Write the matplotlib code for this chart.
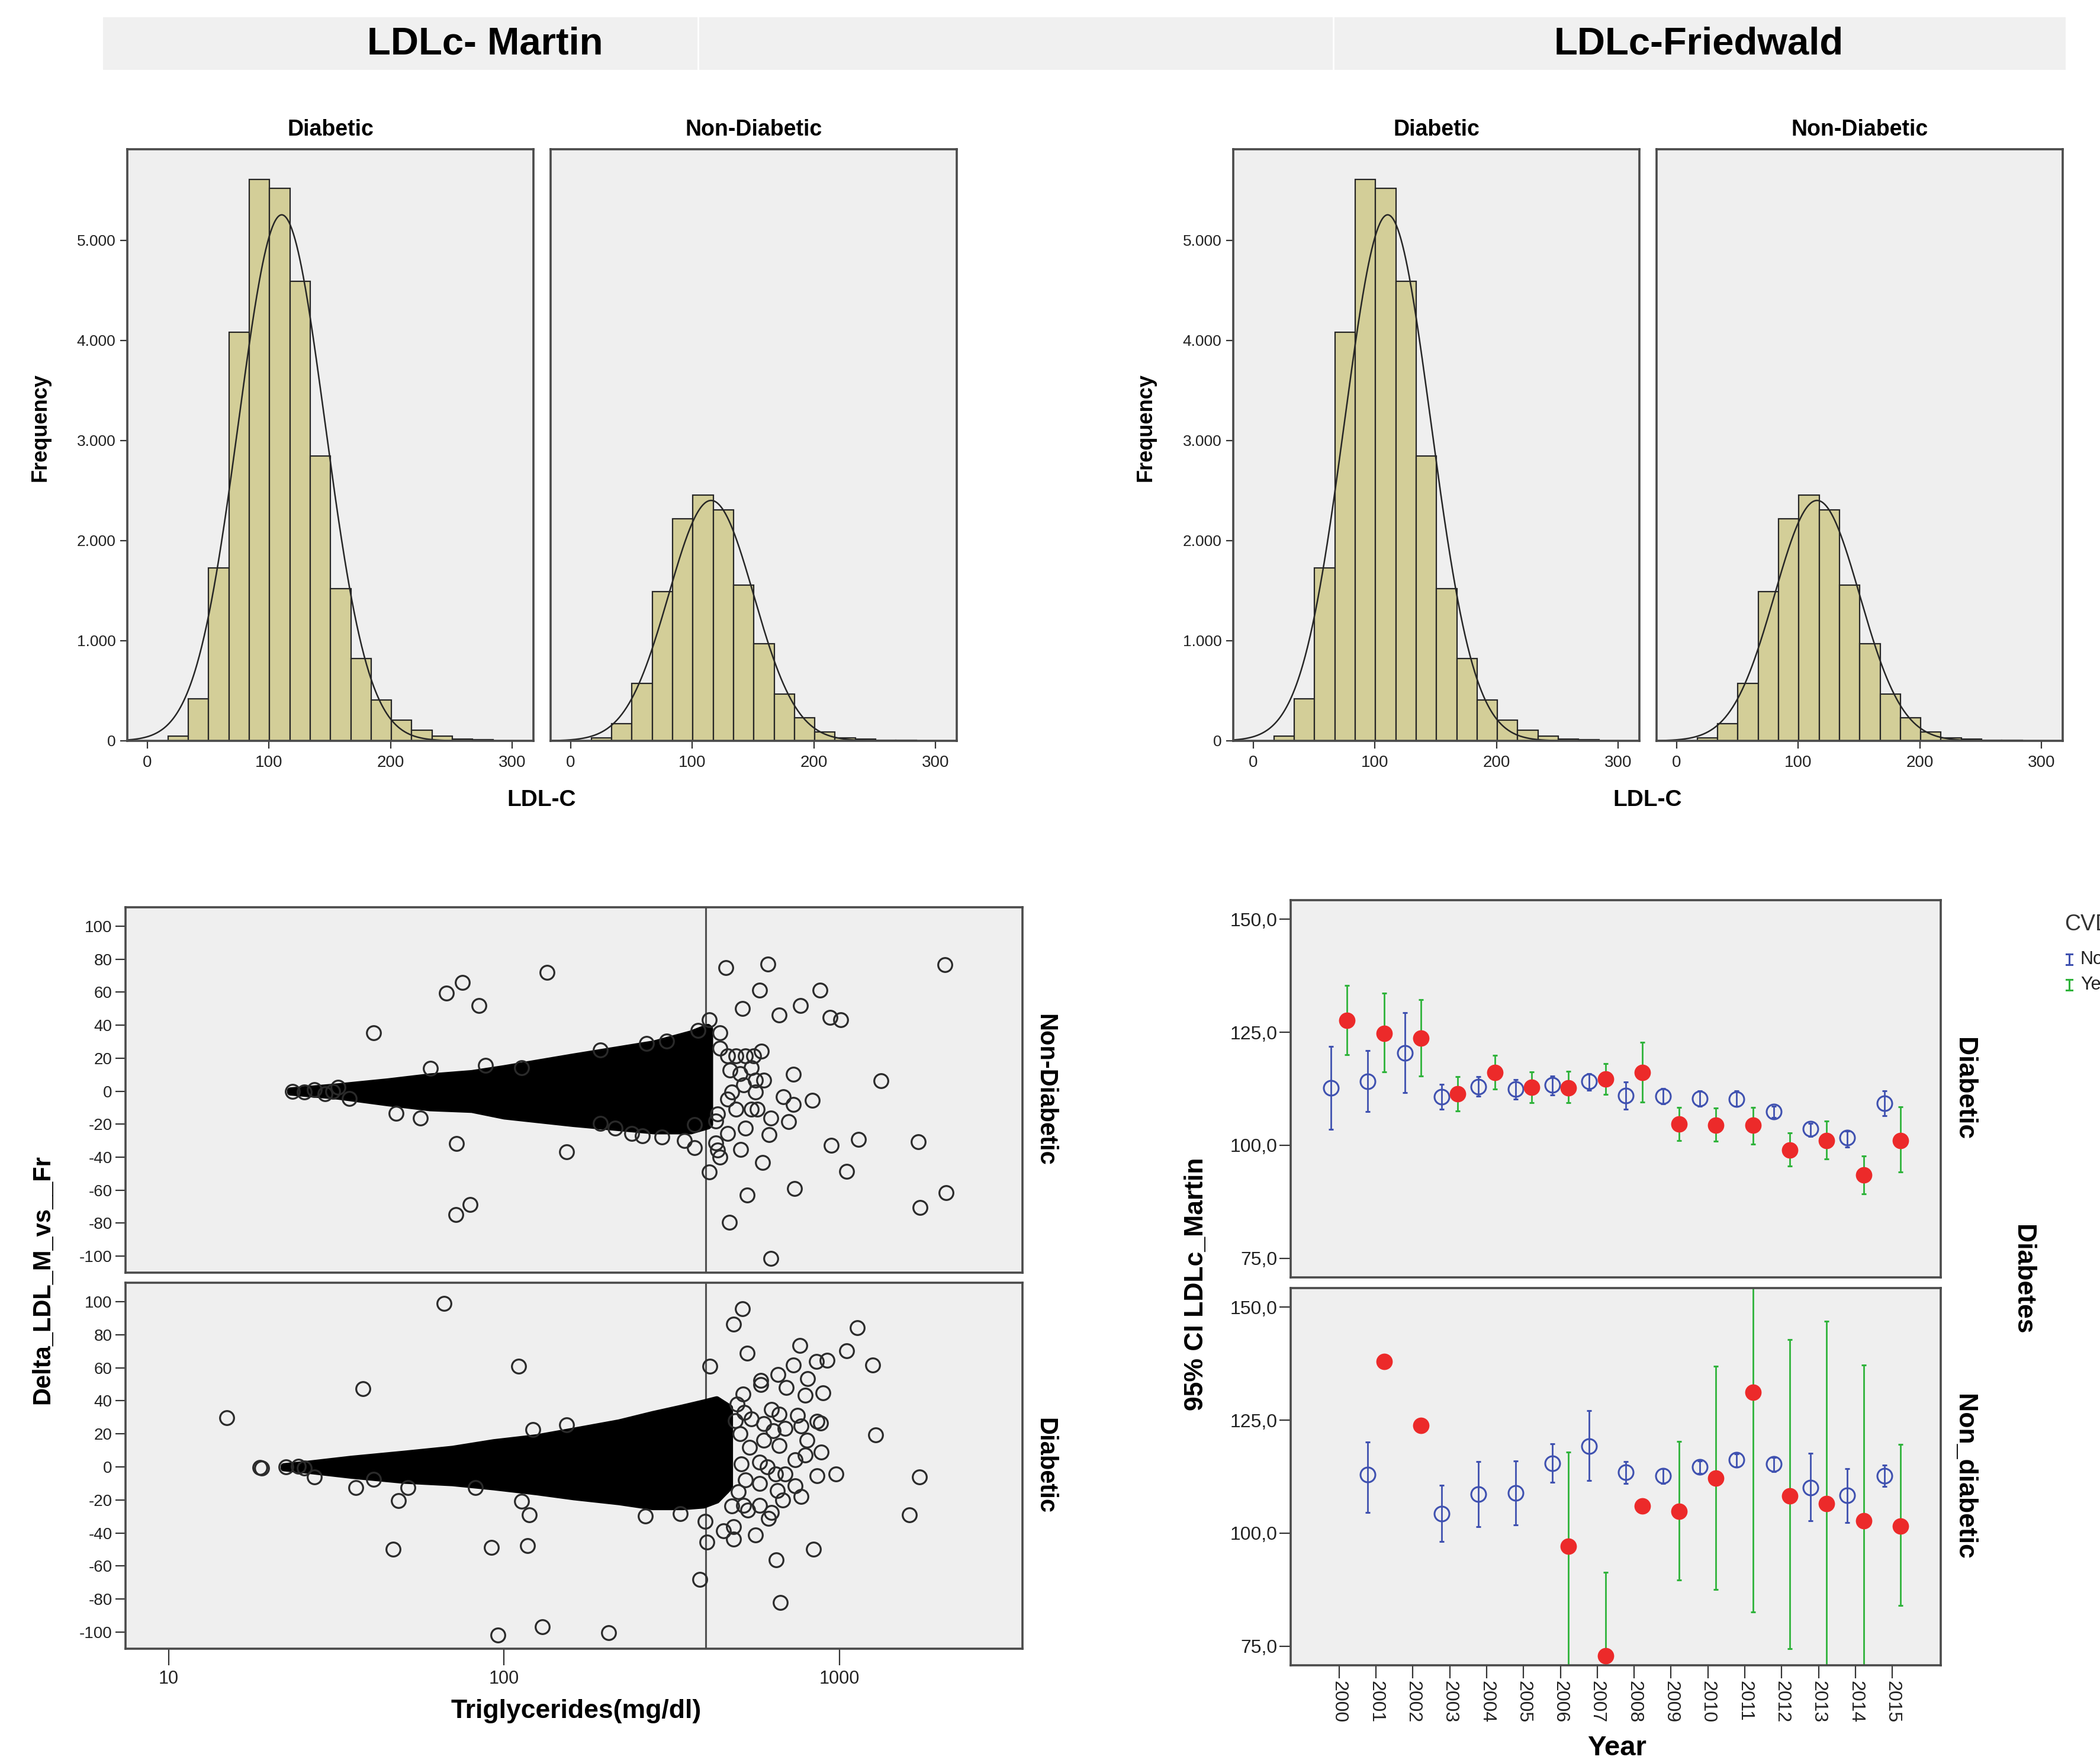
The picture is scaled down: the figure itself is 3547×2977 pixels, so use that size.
"""Composite figure: LDL-C histograms (Martin / Friedwald), Martin-vs-Friedwald delta scatter
and yearly 95% CI of LDLc_Martin by diabetes / CVD status."""
import numpy as np
import matplotlib
matplotlib.use("Agg")
import matplotlib.pyplot as plt
from matplotlib.lines import Line2D
from matplotlib.patches import Rectangle

W, H = 3548, 2977
plt.rcParams["font.family"] = ["Liberation Sans", "DejaVu Sans"]
NARROW = ["Liberation Sans Narrow", "Liberation Sans", "DejaVu Sans"]

# --- histogram data (LDL-C, same bins for both formulas) ---
BIN_START, BIN_WIDTH = 17.0, 16.7
diab_counts = [45, 420, 1730, 4080, 5610, 5520, 4590, 2845, 1520, 820, 410, 205, 105, 50, 20, 12]
nondiab_counts = [30, 170, 575, 1490, 2218, 2457, 2308, 1554, 971, 465, 230, 90, 30, 18, 5, 5]
diab_fit = (110.5, 35.5, 28000)      # mean, sd, n of fitted normal curve
nondiab_fit = (115.5, 35.0, 12616)

# --- scatter: Delta LDL (Martin - Friedwald) vs triglycerides ---
# dense core of the cloud, read as an envelope
nd_env_tg = [23, 32, 45, 60, 80, 100, 160, 280, 360, 405, 410]
nd_env_hi = [0.5, 3, 6, 9, 11, 14, 21, 29, 35, 39, 38]
nd_env_lo = [-0.5, -3, -7, -10, -11, -15, -19.5, -24, -24, -21, -20]
d_env_tg = [22, 26, 35, 50, 70, 93, 125, 161, 220, 277, 340, 393, 430, 470]
d_env_hi = [0.5, 2, 5, 8, 11, 15, 18, 22, 27, 32, 36, 39, 41, 36]
d_env_lo = [-0.5, -2, -5, -8, -9.5, -12, -15, -18, -21, -24, -24, -23, -20, -12]
# individual points outside the core
nondiab_points = [
    (23.4, 0), (25.4, -0.5), (27.2, 1), (29.2, -1.5), (30.8, 0), (32.0, 2.4), (34.5, -4.5),
    (40.8, 35.3), (47.6, -13.6), (56.3, -16.2), (60.4, 14.0), (67.3, 59.4), (75.2, 65.8), (84.0, 52.0),
    (72.1, -31.6), (153.5, -36.9), (79.1, -68.7), (71.9, -74.9), (134.5, 72.0),
    (88, 15.6), (113, 14.1), (194, 25.1), (266, 28.8), (305, 30.3), (379, 36.9), (440, 35.4), (409, 43.2),
    (194, -19.6), (214, -22.5), (240, -25.5), (259, -26.9), (296, -27.7), (369, -20.3),
    (458, 75.0), (611, 76.9), (2067, 76.7), (578, 61.1), (877, 61.1), (766, 52.0), (513, 50.1), (662, 46.1),
    (938, 44.6), (1009, 43.2), (586, 24.4), (728, 10.4), (1333, 6.4), (594, 6.8), (680, -3.5), (728, -7.9),
    (830, -5.7), (705, -18.4), (624, -16.4), (562, -0.6), (547, -10.8), (618, -26.2), (1141, -29.1),
    (1717, -30.6), (944, -32.8), (507, -35.3), (589, -43.1), (434, -35.7), (369, -34.3), (345, -29.9),
    (409, -48.9), (1051, -48.6), (735, -58.9), (530, -62.8), (2078, -61.4), (1742, -70.6), (469, -79.4),
    (624, -101.4), (465, 21.5), (491, 21.5), (525, 21.5), (555, 21.5), (505, 10.5), (478, -0.5), (465, -4.9),
    (518, 3.9), (434, -13.7), (491, -10.8), (525, -22.5), (465, -25.5), (428, -31.3), (440, -40.1),
    (428, -18.1), (547, 14.1), (562, 6.8), (471, 12.7), (570, -10.8), (440, 25.9),
]
diab_points = [
    (14.9, 29.9), (18.7, -0.4), (18.9, -0.8), (22.4, 0), (24.4, 0.5), (25.4, -0.6), (27.2, -6),
    (38.0, 47.4), (36.1, -12.5), (48.5, -20.3), (51.6, -12.5), (46.7, -49.9), (40.8, -7.5), (66.2, 98.8),
    (110.6, 60.9), (82, -12.6), (153.5, 25.4), (121.7, 22.5), (119, -28.9), (113, -20.9), (91.8, -48.8),
    (117.5, -47.7), (95.7, -101.7), (130, -96.6), (205, -100.2), (264, -29.6), (335, -28.4), (398, -32.8),
    (384, -68.2), (402, -45.5),
    (513, 95.9), (484, 86.5), (1133, 84.1), (763, 73.5), (530, 68.9), (1052, 70.3), (728, 61.6), (1256, 61.6),
    (853, 63.8), (918, 64.5), (411, 60.9), (657, 55.8), (805, 53.4), (582, 52.2), (582, 50.0), (693, 47.9),
    (893, 44.7), (790, 43.5), (749, 31.2), (857, 27.6), (880, 26.5), (1282, 19.3), (881, 9.1), (977, -4.2),
    (858, -5.4), (1730, -6.1), (770, -18.0), (677, -20.2), (615, -31.0), (1617, -28.9), (452, -38.7),
    (484, -36.1), (484, -43.8), (562, -41.1), (836, -49.8), (648, -56.4), (666, -82.0),
    (547, 29.1), (594, 26.2), (627, 34.8), (662, 32), (636, 21.8), (690, 23.3), (594, 16), (662, 13.1),
    (769, 24.7), (801, 16), (791, 7.3), (739, 4.4), (578, 3), (610, 0.1), (578, -10), (645, -4.2),
    (690, -4.2), (739, -11.5), (653, -14.4), (578, -23.1), (532, -26), (627, -27.4), (477, -23.8), (518, -23.1),
    (495, 38), (520, 33), (505, 20), (540, 12), (510, 2), (525, -8), (500, -15), (490, 28), (515, 44),
]
TG_CUTOFF = 400

# --- 95% CI of LDLc_Martin per year ---
nan = np.nan
years = list(range(2000, 2016))
d_no_mean = [112.7, 114.2, 120.4, 110.7, 113.0, 112.4, 113.3, 114.1, 111.0, 110.8, 110.4, 110.2, 107.5, 103.7, 101.7, 109.3]
d_no_lo = [103.5, 107.5, 111.7, 108.0, 110.8, 110.2, 111.1, 112.2, 108.0, 109.1, 108.6, 108.6, 106.2, 101.9, 99.6, 106.6]
d_no_hi = [121.8, 121.0, 129.3, 113.5, 115.2, 114.5, 115.3, 115.9, 114.0, 112.6, 112.1, 112.0, 108.7, 104.9, 103.1, 112.0]
d_yes_mean = [127.6, 124.8, 123.7, 111.4, 116.1, 112.8, 112.7, 114.6, 116.1, 104.7, 104.5, 104.4, 98.9, 101.1, 93.4, 101.1]
d_yes_lo = [120.0, 116.2, 115.3, 107.6, 112.4, 109.4, 109.4, 111.3, 109.5, 101.0, 100.9, 100.3, 95.4, 97.0, 89.2, 94.1]
d_yes_hi = [135.3, 133.6, 132.2, 115.2, 119.9, 116.2, 116.3, 118.1, 122.8, 108.4, 108.3, 108.4, 102.7, 105.4, 97.7, 108.5]
nd_no_mean = [nan, 112.9, nan, 104.3, 108.6, 108.9, 115.4, 119.3, 113.5, 112.7, 114.6, 116.2, 115.3, 110.1, 108.4, 112.7]
nd_no_lo = [nan, 104.6, nan, 98.2, 101.5, 101.8, 111.2, 111.7, 111.0, 111.0, 113.2, 114.6, 113.6, 102.7, 102.4, 110.3]
nd_no_hi = [nan, 120.1, nan, 110.6, 115.8, 116.0, 119.8, 127.1, 115.9, 114.3, 116.0, 117.5, 116.8, 117.7, 114.3, 115.0]
nd_yes_mean = [nan, 137.9, 123.8, nan, nan, nan, 97.1, 72.9, 106.0, 104.8, 112.2, 131.2, 108.2, 106.5, 102.7, 101.6]
nd_yes_lo = [nan, nan, nan, nan, nan, nan, 40, 55, nan, 89.7, 87.5, 82.6, 74.5, 50, 50, 84.0]
nd_yes_hi = [nan, nan, nan, nan, nan, nan, 117.9, 91.3, nan, 120.3, 136.9, 165, 142.8, 146.9, 137.2, 119.6]

PANEL_BG = "#efefef"
FRAME = "#4a4a4a"
BAR = "#d3ce98"
BLUE = "#3f51b0"
GREEN = "#2eb33a"
RED = "#ec2a2a"

fig = plt.figure(figsize=(W / 100, H / 100), dpi=100)


def box(x0, y0, x1, y1):
    return [x0 / W, 1 - y1 / H, (x1 - x0) / W, (y1 - y0) / H]


def ftext(x, y, s, **kw):
    kw.setdefault("ha", "center")
    kw.setdefault("va", "center")
    fig.text(x / W, 1 - y / H, s, **kw)


def style(ax):
    ax.set_facecolor(PANEL_BG)
    for sp in ax.spines.values():
        sp.set_color(FRAME)
        sp.set_linewidth(2.6)
    ax.tick_params(direction="out", color="#333333", width=1.6, labelcolor="#222222")


# --- header band ---
fig.add_artist(Rectangle((174 / W, 1 - 118 / H), (3489 - 174) / W, 89 / H,
                         transform=fig.transFigure, facecolor="#f0f0f0", edgecolor="none"))
for xd in (1179, 2252):
    fig.add_artist(Line2D([xd / W, xd / W], [1 - 118 / H, 1 - 29 / H], transform=fig.transFigure,
                          color="white", lw=2))
ftext(819, 74, "LDLc- Martin", family=NARROW, weight="bold", size=47)
ftext(2869, 74, "LDLc-Friedwald", family=NARROW, weight="bold", size=47)


# --- histograms ---
def hist_panel(rect, counts, fit, title, show_y):
    ax = fig.add_axes(box(*rect))
    style(ax)
    edges = BIN_START + BIN_WIDTH * np.arange(len(counts))
    ax.bar(edges, counts, width=BIN_WIDTH, align="edge", color=BAR, edgecolor="#262626", linewidth=1.6)
    mean, sd, n = fit
    xs = np.linspace(-16, 317, 500)
    ax.plot(xs, n * BIN_WIDTH / (sd * np.sqrt(2 * np.pi)) * np.exp(-0.5 * ((xs - mean) / sd) ** 2),
            color="#262626", lw=1.8)
    ax.set_xlim(-16.5, 317.5)
    ax.set_ylim(0, 5910)
    ax.set_xticks([0, 100, 200, 300])
    ax.set_xticklabels(["0", "100", "200", "300"])
    ax.tick_params(axis="x", length=9, pad=8, labelsize=20)
    if show_y:
        yt = [0, 1000, 2000, 3000, 4000, 5000]
        ax.set_yticks(yt)
        ax.set_yticklabels([f"{v:,}".replace(",", ".") for v in yt])
        ax.tick_params(axis="y", length=9, pad=5, labelsize=19)
    else:
        ax.tick_params(axis="y", left=False, labelleft=False)
    ftext((rect[0] + rect[2]) / 2, 219, title, weight="bold", size=27)
    return ax


for x0, ylab_x in ((215, 68), (2083, 1935)):
    off = x0 - 215
    hist_panel((215 + off, 252, 901 + off, 1251), diab_counts, diab_fit, "Diabetic", True)
    hist_panel((930 + off, 252, 1616 + off, 1251), nondiab_counts, nondiab_fit, "Non-Diabetic", False)
    ftext(ylab_x, 722, "Frequency", weight="bold", size=26, rotation=90)
    ftext(915 + off, 1351, "LDL-C", weight="bold", size=28)


# --- scatter panels ---
def scatter_panel(rect, env_tg, env_hi, env_lo, pts, strip, show_x):
    ax = fig.add_axes(box(*rect))
    style(ax)
    ax.set_xscale("log")
    ax.fill_between(env_tg, env_lo, env_hi, color="black", lw=8, edgecolor="black", zorder=2)
    tg, dl = zip(*pts)
    ax.plot(tg, dl, "o", mfc="none", mec="#2a2a2a", ms=17, mew=2.3, zorder=3)
    ax.axvline(TG_CUTOFF, color="#505050", lw=2.2, zorder=1)
    ax.set_xlim(7.43, 3516)
    ax.set_ylim(-110, 111.5)
    yt = list(range(-100, 101, 20))
    ax.set_yticks(yt)
    ax.set_yticklabels([str(v) for v in yt])
    ax.tick_params(axis="y", length=12, pad=4, labelsize=20)
    ax.minorticks_off()
    if show_x:
        ax.set_xticks([10, 100, 1000])
        ax.set_xticklabels(["10", "100", "1000"])
        ax.tick_params(axis="x", length=20, pad=6, labelsize=22)
    else:
        ax.tick_params(axis="x", bottom=False, labelbottom=False)
    ftext(1765, (rect[1] + rect[3]) / 2, strip, weight="bold", size=30, rotation=-90)


scatter_panel((212, 1532, 1727, 2149), nd_env_tg, nd_env_hi, nd_env_lo, nondiab_points, "Non-Diabetic", False)
scatter_panel((212, 2166, 1727, 2784), d_env_tg, d_env_hi, d_env_lo, diab_points, "Diabetic", True)
ftext(72, 2161, "Delta_LDL_M_vs__Fr", family=NARROW, weight="bold", size=30, rotation=90)
ftext(973, 2890, "Triglycerides(mg/dl)", family=NARROW, weight="bold", size=32)


# --- 95% CI panels ---
def ci_series(ax, mean, lo, hi, color, dx, filled):
    x = np.array(years) + dx
    ax.vlines(x, lo, hi, color=color, lw=2.0, zorder=2)
    ax.plot(x, lo, "_", color=color, ms=6, mew=2.2, zorder=2)
    ax.plot(x, hi, "_", color=color, ms=6, mew=2.2, zorder=2)
    if filled:
        ax.plot(x, mean, "o", color=RED, ms=20, mew=0, zorder=4)
    else:
        ax.plot(x, mean, "o", mfc="none", mec=BLUE, ms=18, mew=2.2, zorder=3)


def ci_panel(rect, series, strip, show_x):
    ax = fig.add_axes(box(*rect))
    style(ax)
    no_m, no_lo, no_hi, yes_m, yes_lo, yes_hi = series
    ci_series(ax, no_m, no_lo, no_hi, BLUE, -0.22, False)
    ci_series(ax, yes_m, yes_lo, yes_hi, GREEN, 0.22, True)
    ax.set_xlim(1998.69, 2016.31)
    ax.set_ylim(70.8, 154.2)
    yt = [75, 100, 125, 150]
    ax.set_yticks(yt)
    ax.set_yticklabels([f"{v:.1f}".replace(".", ",") for v in yt], family=NARROW)
    ax.tick_params(axis="y", length=14, pad=2, labelsize=23)
    if show_x:
        ax.set_xticks(years)
        ax.set_xticklabels([str(y) for y in years], rotation=-90)
        ax.tick_params(axis="x", length=16, pad=3, labelsize=23)
    else:
        ax.tick_params(axis="x", bottom=False, labelbottom=False)
    ftext(3318, (rect[1] + rect[3]) / 2, strip, weight="bold", size=32, rotation=-90)


ci_panel((2180, 1520, 3278, 2157), (d_no_mean, d_no_lo, d_no_hi, d_yes_mean, d_yes_lo, d_yes_hi),
         "Diabetic", False)
ci_panel((2180, 2175, 3278, 2812), (nd_no_mean, nd_no_lo, nd_no_hi, nd_yes_mean, nd_yes_lo, nd_yes_hi),
         "Non_diabetic", True)
ftext(2021, 2168, "95% CI LDLc_Martin", weight="bold", size=32, rotation=90)
ftext(2731, 2952, "Year", family=NARROW, weight="bold", size=34)
ftext(3417, 2161, "Diabetes", weight="bold", size=32, rotation=-90)

# legend, cut off by the right edge as in the source
ftext(3487, 1561, "CVD", ha="left", size=27, color="#333333")
for yy, col, lab in ((1620, BLUE, "No"), (1663, GREEN, "Yes")):
    xm = 3495
    fig.add_artist(Line2D([xm / W] * 2, [1 - (yy + 9) / H, 1 - (yy - 9) / H], transform=fig.transFigure,
                          color=col, lw=2.2))
    for yc in (yy - 9, yy + 9):
        fig.add_artist(Line2D([(xm - 5) / W, (xm + 5) / W], [1 - yc / H] * 2, transform=fig.transFigure,
                              color=col, lw=2.2))
    ftext(3514, yy, lab, ha="left", size=22, color="#222222")

fig.savefig("out.png", dpi=100, facecolor="white")
print("wrote out.png")
